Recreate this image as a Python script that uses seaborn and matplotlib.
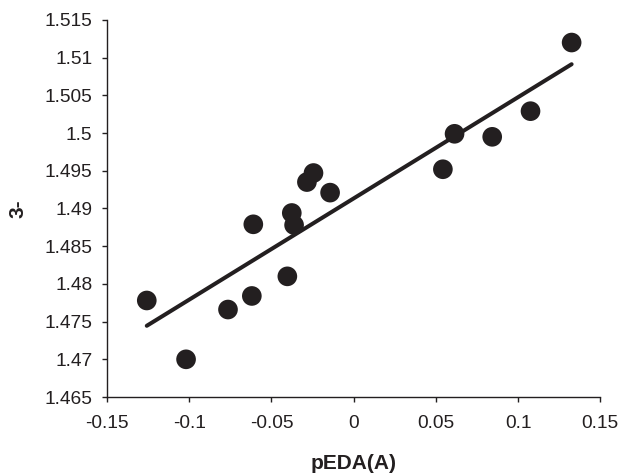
import matplotlib
matplotlib.use("Agg")
import matplotlib.pyplot as plt
import seaborn as sns
import pandas as pd

x_vals = [-0.1258, -0.1019, -0.0764, -0.0619, -0.0403, -0.0610, -0.0376, -0.0362,
          -0.0284, -0.0244, -0.0143, 0.0543, 0.0614, 0.0843, 0.1076, 0.1326]
y_vals = [1.4778, 1.4700, 1.4766, 1.4784, 1.4810, 1.4879, 1.4894, 1.4878,
          1.4935, 1.4947, 1.4921, 1.4952, 1.4999, 1.4995, 1.5029, 1.5120]
x_ticks = [-0.15, -0.1, -0.05, 0, 0.05, 0.1, 0.15]
x_tick_labels = ["-0.15", "-0.1", "-0.05", "0", "0.05", "0.1", "0.15"]
y_ticks = [1.465, 1.47, 1.475, 1.48, 1.485, 1.49, 1.495, 1.5, 1.505, 1.51, 1.515]
y_tick_labels = ["1.465", "1.47", "1.475", "1.48", "1.485", "1.49", "1.495", "1.5", "1.505", "1.51", "1.515"]

sns.set_style("ticks")
plt.rcParams['font.family'] = ['Liberation Sans', 'DejaVu Sans']
ink = "#231f20"

df = pd.DataFrame({"x": x_vals, "y": y_vals})

fig = plt.figure(figsize=(6.22, 4.74), dpi=100)
ax = fig.add_axes([0.172, 0.1624, 0.793, 0.7956])

sns.regplot(data=df, x="x", y="y", ax=ax, ci=None, truncate=True,
            scatter_kws=dict(s=200, color=ink, edgecolor="none", alpha=1, zorder=3),
            line_kws=dict(color=ink, lw=2.9, solid_capstyle="round", zorder=2))

ax.set_xlim(-0.15, 0.15)
ax.set_ylim(1.465, 1.515)
ax.set_xticks(x_ticks)
ax.set_xticklabels(x_tick_labels)
ax.set_yticks(y_ticks)
ax.set_yticklabels(y_tick_labels)
ax.tick_params(axis="both", direction="out", length=3.6, width=1.0, color=ink,
               labelcolor=ink, labelsize=13.8)
ax.tick_params(axis="x", pad=9)
ax.tick_params(axis="y", pad=7)
for s in ["top", "right"]:
    ax.spines[s].set_visible(False)
for s in ["left", "bottom"]:
    ax.spines[s].set_color(ink)
    ax.spines[s].set_linewidth(1.0)

ax.set_xlabel("pEDA(A)", fontsize=15, fontweight="bold", color=ink, labelpad=16)
ax.set_ylabel("3-", fontsize=15, fontweight="bold", color=ink, labelpad=12)

fig.savefig("out.png", dpi=100)
